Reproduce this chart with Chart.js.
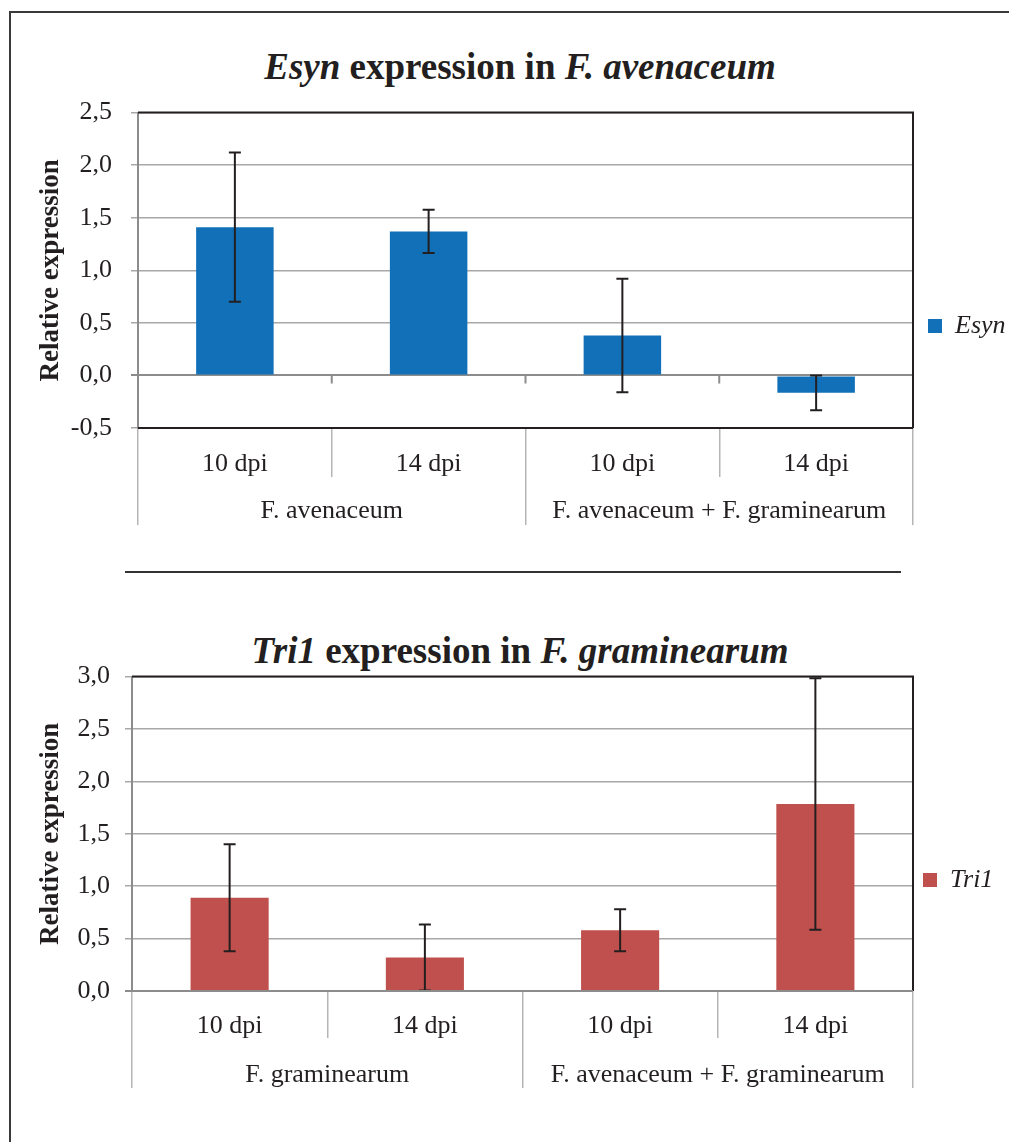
<!DOCTYPE html>
<html lang="en">
<head>
    <meta charset="UTF-8">
    <title>Esyn and Tri1 expression</title>
    <script src="https://cdn.jsdelivr.net/npm/chart.js"></script>
    <style>
        body {
            margin: 0;
            background: #fff;
            overflow: hidden;
            font-family: "Liberation Serif", "Times New Roman", serif;
            color: #231f20;
        }
        #frame {
            position: absolute;
            left: 9px;
            top: 11px;
            width: 1100px;
            height: 1200px;
            border-left: 2px solid #3a3a3a;
            border-top: 2px solid #3a3a3a;
        }
        .title {
            position: absolute;
            left: 170px;
            width: 700px;
            text-align: center;
            font-size: 37px;
            font-weight: bold;
            line-height: 40px;
        }
        #divider {
            position: absolute;
            left: 125px;
            top: 571px;
            width: 776px;
            height: 0;
            border-top: 2px solid #333;
        }
        .box { position: absolute; left: 0; }
    </style>
</head>
<body>
    <div id="frame"></div>

    <div class="title" style="top:47px"><i>Esyn</i> expression in <i>F. avenaceum</i></div>
    <div class="box" style="top:78px"><canvas id="esynChart" width="1009" height="496"></canvas></div>

    <div id="divider"></div>

    <div class="title" style="top:631px"><i>Tri1</i> expression in <i>F. graminearum</i></div>
    <div class="box" style="top:646px"><canvas id="tri1Chart" width="1009" height="468"></canvas></div>

    <script>
        const categories = ['10 dpi', '14 dpi', '10 dpi', '14 dpi'];

        const esynGroups = ['F. avenaceum', 'F. avenaceum + F. graminearum'];
        const esynValues = [1.41, 1.37, 0.38, -0.165];
        const esynErrors = [0.71, 0.205, 0.54, 0.165];
        const esynTicks = [-0.5, 2.5, 0.5];   // min, max, step

        const tri1Groups = ['F. graminearum', 'F. avenaceum + F. graminearum'];
        const tri1Values = [0.89, 0.32, 0.58, 1.785];
        const tri1Errors = [0.51, 0.315, 0.2, 1.2];
        const tri1Ticks = [0, 3, 0.5];

        const FONT = '"Liberation Serif", "Times New Roman", serif';
        const TEXT = '#231f20';
        const GRID = '#a8a8a8';
        const AXIS = '#8c8c8c';

        // error bars drawn from the y scale
        const errorBars = {
            id: 'errorBars',
            afterDatasetsDraw(chart, args, opts) {
                const ctx = chart.ctx;
                const y = chart.scales.y;
                const vals = chart.data.datasets[0].data;
                ctx.save();
                ctx.strokeStyle = TEXT;
                ctx.lineWidth = 2;
                chart.getDatasetMeta(0).data.forEach((bar, i) => {
                    const e = opts.errors[i];
                    const top = y.getPixelForValue(vals[i] + e);
                    const bot = y.getPixelForValue(vals[i] - e);
                    ctx.beginPath();
                    ctx.moveTo(bar.x, top); ctx.lineTo(bar.x, bot);
                    ctx.moveTo(bar.x - 6, top); ctx.lineTo(bar.x + 6, top);
                    ctx.moveTo(bar.x - 6, bot); ctx.lineTo(bar.x + 6, bot);
                    ctx.stroke();
                });
                ctx.restore();
            }
        };

        // dark plot border + small ticks on the zero line
        const plotFrame = {
            id: 'plotFrame',
            afterDraw(chart, args, opts) {
                const ctx = chart.ctx;
                const a = chart.chartArea;
                const x = chart.scales.x;
                const y0 = chart.scales.y.getPixelForValue(0);
                ctx.save();
                ctx.lineWidth = 2;
                ctx.strokeStyle = TEXT;
                ctx.beginPath();
                ctx.moveTo(a.left, a.top); ctx.lineTo(a.right, a.top); ctx.lineTo(a.right, a.bottom);
                ctx.stroke();
                ctx.strokeStyle = opts.bottomColor;
                ctx.beginPath();
                ctx.moveTo(a.left, a.bottom); ctx.lineTo(a.right, a.bottom);
                ctx.stroke();
                if (y0 < a.bottom - 1) {
                    ctx.strokeStyle = AXIS;
                    ctx.beginPath();
                    for (let i = 0; i < categories.length - 1; i++) {
                        const bx = (x.getPixelForValue(i) + x.getPixelForValue(i + 1)) / 2;
                        ctx.moveTo(bx, y0); ctx.lineTo(bx, y0 + 8);
                    }
                    ctx.stroke();
                }
                ctx.restore();
            }
        };

        // fixed legend width so the plot's right edge lands where it should
        const legendWidth = {
            id: 'legendWidth',
            beforeLayout(chart, args, opts) {
                const legend = chart.legend;
                if (legend && !legend._fixedWidth) {
                    const fit = legend.fit;
                    legend.fit = function () {
                        fit.call(this);
                        this.width = opts.width;
                    };
                    legend._fixedWidth = true;
                }
            }
        };

        function buildChart(id, p) {
            return new Chart(document.getElementById(id), {
                type: 'bar',
                data: {
                    labels: categories,
                    datasets: [{
                        label: p.series,
                        data: p.values,
                        backgroundColor: p.color,
                        borderWidth: 0,
                        categoryPercentage: 1,
                        barPercentage: 0.4
                    }]
                },
                options: {
                    responsive: false,
                    animation: false,
                    devicePixelRatio: 1,
                    layout: { padding: 0 },
                    scales: {
                        x: {
                            type: 'category',
                            offset: true,
                            grid: { offset: true, drawOnChartArea: false, tickLength: p.x1h, color: '#b5b5b5', lineWidth: 1.5 },
                            border: { display: false },
                            ticks: { padding: p.x1pad, color: TEXT, font: { family: FONT, size: 26 }, autoSkip: false, maxRotation: 0 },
                            afterFit: s => { s.height = p.x1h; }
                        },
                        x2: {
                            type: 'category',
                            position: 'bottom',
                            labels: p.groups,
                            offset: true,
                            grid: { offset: true, drawOnChartArea: false, tickLength: p.x2len, color: '#b5b5b5', lineWidth: 1.5 },
                            border: { display: false },
                            ticks: { padding: p.x2pad, color: TEXT, font: { family: FONT, size: 26 }, autoSkip: false, maxRotation: 0 },
                            afterFit: s => { s.height = p.x2h; }
                        },
                        y: {
                            min: p.ticks[0],
                            max: p.ticks[1],
                            ticks: {
                                stepSize: p.ticks[2],
                                padding: p.ypad,
                                color: TEXT,
                                font: { family: FONT, size: 26 },
                                callback: v => v.toFixed(1).replace('.', ',')
                            },
                            grid: {
                                color: c => c.tick && c.tick.value === 0 ? AXIS : GRID,
                                lineWidth: c => c.tick && c.tick.value === 0 ? 2 : 1.5,
                                tickLength: 7
                            },
                            border: { color: AXIS, width: 2 },
                            title: {
                                display: true,
                                text: 'Relative expression',
                                color: TEXT,
                                font: { family: FONT, size: 27, weight: 'bold' },
                                padding: { top: 35, bottom: 0 }
                            },
                            afterFit: s => { s.width = p.yw; }
                        }
                    },
                    plugins: {
                        legend: {
                            position: 'right',
                            labels: {
                                boxWidth: 14,
                                boxHeight: 14,
                                padding: p.legendPad,
                                color: TEXT,
                                font: { family: FONT, size: 26, style: 'italic' }
                            }
                        },
                        tooltip: { enabled: false },
                        errorBars: { errors: p.errors },
                        plotFrame: { bottomColor: p.bottomColor },
                        legendWidth: { width: 96 }
                    }
                },
                plugins: [errorBars, plotFrame, legendWidth]
            });
        }

        buildChart('esynChart', {
            series: 'Esyn', values: esynValues, errors: esynErrors, groups: esynGroups,
            ticks: esynTicks, color: '#1170b8', bottomColor: TEXT,
            yw: 138, ypad: 19, legendPad: 15,
            x1h: 49, x1pad: -28, x2h: 97, x2len: 48, x2pad: -29
        });

        buildChart('tri1Chart', {
            series: 'Tri1', values: tri1Values, errors: tri1Errors, groups: tri1Groups,
            ticks: tri1Ticks, color: '#c0504d', bottomColor: AXIS,
            yw: 132, ypad: 15, legendPad: 10,
            x1h: 47, x1pad: -27, x2h: 76, x2len: 50, x2pad: -28
        });
    </script>
</body>
</html>
